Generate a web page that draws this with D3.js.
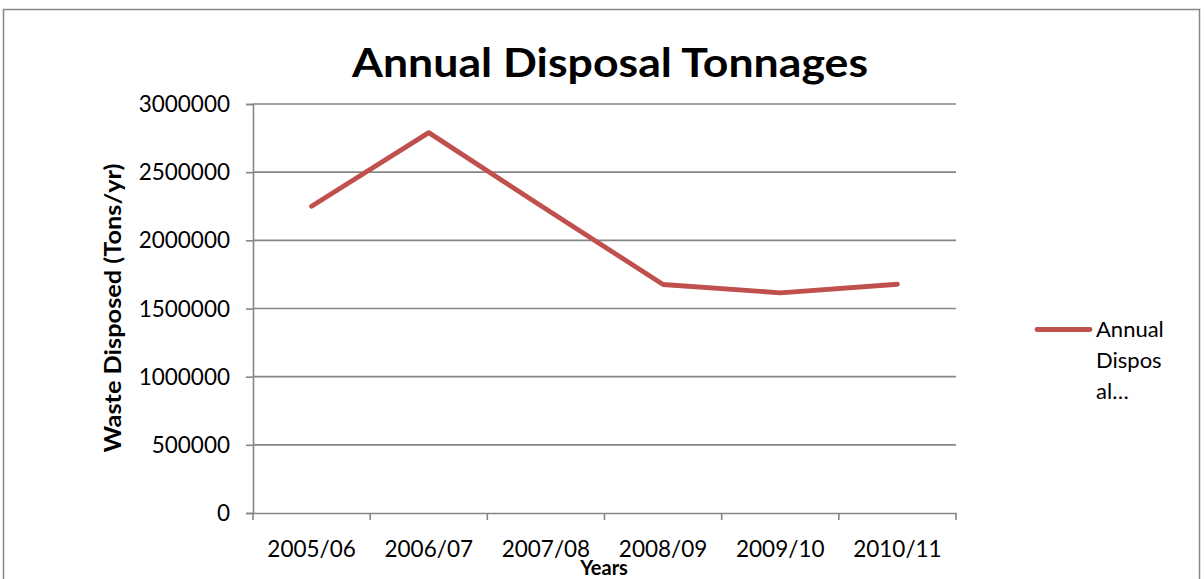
<!DOCTYPE html>
<html>
<head>
<meta charset="utf-8">
<script src="https://cdn.jsdelivr.net/npm/d3@7"></script>
<style>
  html, body { margin: 0; padding: 0; background: #fff; }
  svg { display: block; font-family: Lato, "Open Sans", sans-serif; }
</style>
</head>
<body>
<svg id="chart" width="1204" height="579"></svg>
<script>
// Annual waste disposal, tons per year
const years = ["2005/06", "2006/07", "2007/08", "2008/09", "2009/10", "2010/11"];
const disposed = [2250000, 2790000, 2230000, 1676000, 1615000, 1678000];
const yTicks = [0, 500000, 1000000, 1500000, 2000000, 2500000, 3000000];
const seriesName = "Annual Disposal Tonnages";
const legendLines = ["Annual", "Dispos", "al…"];

const svg = d3.select("#chart");
const plot = { left: 253, right: 956, top: 104, bottom: 513 };
const gridColor = "#868686";
const lineColor = "#C0504D";

// outer chart frame
svg.append("rect")
  .attr("x", 3.5).attr("y", 9.5)
  .attr("width", 1196).attr("height", 620)
  .attr("fill", "none").attr("stroke", gridColor).attr("stroke-width", 1.5);

const x = d3.scaleBand().domain(years).range([plot.left, plot.right]);
const y = d3.scaleLinear().domain([0, 3000000]).range([plot.bottom, plot.top]);

// horizontal gridlines
svg.append("g").selectAll("line")
  .data(yTicks.filter(d => d > 0))
  .join("line")
  .attr("x1", plot.left).attr("x2", plot.right)
  .attr("y1", d => y(d)).attr("y2", d => y(d))
  .attr("stroke", gridColor).attr("stroke-width", 1.6);

// y axis
const yAxis = svg.append("g")
  .attr("transform", `translate(${plot.left},0)`)
  .call(d3.axisLeft(y).tickValues(yTicks).tickFormat(d3.format("d")).tickSize(7).tickPadding(16));
yAxis.select(".domain").attr("stroke", gridColor).attr("stroke-width", 1.6);
yAxis.selectAll(".tick line").attr("stroke", gridColor).attr("stroke-width", 1.6);
yAxis.selectAll(".tick text")
  .attr("font-family", "Lato, sans-serif").attr("font-size", 22.5).attr("fill", "#000")
  .attr("dy", "0.34em");

// x axis with ticks at category boundaries
const xAxis = svg.append("g")
  .attr("transform", `translate(0,${plot.bottom})`)
  .call(d3.axisBottom(x).tickSize(0).tickPadding(28));
xAxis.select(".domain").attr("stroke", gridColor).attr("stroke-width", 1.6);
xAxis.selectAll(".tick text")
  .attr("font-family", "Lato, sans-serif").attr("font-size", 22.5).attr("fill", "#000");
const bounds = years.map(d => x(d)).concat([plot.right]);
svg.append("g").selectAll("line")
  .data(bounds)
  .join("line")
  .attr("x1", d => d).attr("x2", d => d)
  .attr("y1", plot.bottom).attr("y2", plot.bottom + 7)
  .attr("stroke", gridColor).attr("stroke-width", 1.6);

// data line
const line = d3.line()
  .x((d, i) => x(years[i]) + x.bandwidth() / 2)
  .y(d => y(d));
svg.append("path")
  .datum(disposed)
  .attr("d", line)
  .attr("fill", "none")
  .attr("stroke", lineColor)
  .attr("stroke-width", 4.8)
  .attr("stroke-linejoin", "round")
  .attr("stroke-linecap", "round");

// title
svg.append("text")
  .attr("x", 610).attr("y", 77)
  .attr("text-anchor", "middle")
  .attr("font-weight", "bold").attr("font-size", 40)
  .attr("textLength", 516).attr("lengthAdjust", "spacingAndGlyphs")
  .text(seriesName);

// axis titles
svg.append("text")
  .attr("transform", "translate(121,308) rotate(-90)")
  .attr("text-anchor", "middle")
  .attr("font-weight", "bold").attr("font-size", 22)
  .attr("textLength", 289).attr("lengthAdjust", "spacingAndGlyphs")
  .text("Waste Disposed (Tons/yr)");

svg.append("text")
  .attr("x", 604).attr("y", 575)
  .attr("text-anchor", "middle")
  .attr("font-weight", "bold").attr("font-size", 20)
  .text("Years");

// legend
const legend = svg.append("g");
legend.append("line")
  .attr("x1", 1037).attr("x2", 1090)
  .attr("y1", 329.5).attr("y2", 329.5)
  .attr("stroke", lineColor).attr("stroke-width", 4.8)
  .attr("stroke-linecap", "round");
legend.selectAll("text")
  .data(legendLines)
  .join("text")
  .attr("x", 1096)
  .attr("y", (d, i) => 337 + i * 31)
  .attr("font-size", 22)
  .attr("fill", "#000")
  .text(d => d);
</script>
</body>
</html>
